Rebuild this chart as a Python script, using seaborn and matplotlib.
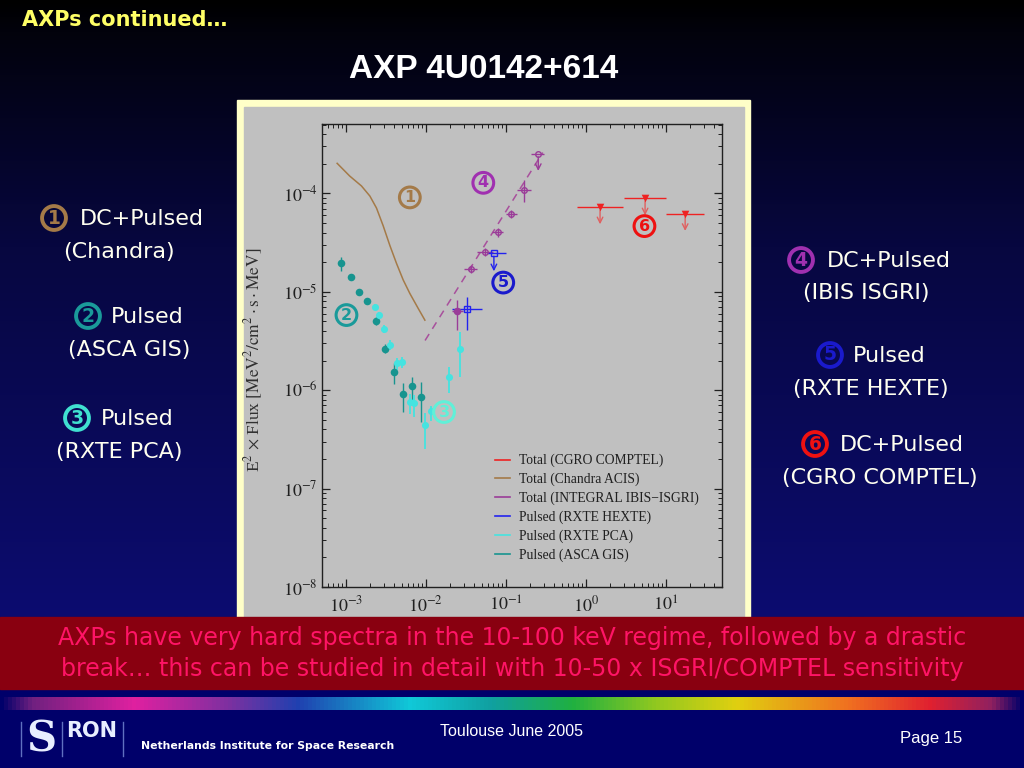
import numpy as np
import matplotlib
matplotlib.use('Agg')
import matplotlib.pyplot as plt
import seaborn as sns
from matplotlib.colors import LinearSegmentedColormap
from matplotlib.lines import Line2D
from matplotlib.patches import Rectangle

# ---------------- data ----------------
chandra_e = [7.8e-4, 1.12e-3, 1.57e-3, 2.0e-3, 2.42e-3, 2.93e-3, 3.56e-3,
             4.31e-3, 5.22e-3, 6.33e-3, 8.04e-3, 9.75e-3]
chandra_f = [2.02e-4, 1.50e-4, 1.19e-4, 9.4e-5, 7.1e-5, 4.7e-5, 2.95e-5,
             1.94e-5, 1.32e-5, 9.6e-6, 6.78e-6, 5.15e-6]

asca_e = [8.83e-4, 1.156e-3, 1.455e-3, 1.866e-3, 2.42e-3, 3.13e-3, 4.03e-3,
          5.22e-3, 6.70e-3, 8.61e-3]
asca_f = [1.94e-5, 1.40e-5, 9.93e-6, 8.09e-6, 5.07e-6, 2.65e-6, 1.53e-6,
          9.1e-7, 1.11e-6, 8.55e-7]
asca_lo = [1.63e-5, 1.31e-5, 9.27e-6, 7.55e-6, 4.62e-6, 2.37e-6, 1.16e-6,
           6.0e-7, 7.9e-7, 4.8e-7]
asca_hi = [2.27e-5, 1.50e-5, 1.06e-5, 8.67e-6, 5.56e-6, 2.98e-6, 1.87e-6,
           1.17e-6, 1.37e-6, 1.21e-6]

pca_e = [2.31e-3, 2.61e-3, 2.99e-3, 3.62e-3, 4.39e-3, 4.98e-3, 6.32e-3,
         7.10e-3, 9.75e-3, 1.148e-2, 1.963e-2, 2.67e-2]
pca_f = [7.03e-6, 5.79e-6, 4.21e-6, 2.87e-6, 1.87e-6, 1.94e-6, 7.6e-7,
         7.43e-7, 4.41e-7, 6.17e-7, 1.37e-6, 2.65e-6]
pca_lo = [6.56e-6, 5.4e-6, 3.84e-6, 2.56e-6, 1.59e-6, 1.7e-6, 5.76e-7,
          5.4e-7, 2.54e-7, 4.9e-7, 9.3e-7, 1.36e-6]
pca_hi = [7.53e-6, 6.2e-6, 4.62e-6, 3.22e-6, 2.1e-6, 2.15e-6, 9.25e-7,
          8.9e-7, 5.8e-7, 6.9e-7, 1.73e-6, 3.9e-6]

isgri_e = [2.43e-2, 3.66e-2, 5.50e-2, 7.91e-2, 0.116, 0.169]
isgri_f = [6.41e-6, 1.70e-5, 2.55e-5, 4.01e-5, 6.17e-5, 1.08e-4]
isgri_elo = [0.0210, 0.030, 0.044, 0.0665, 0.0995, 0.137]
isgri_ehi = [0.0288, 0.044, 0.0698, 0.093, 0.137, 0.205]
isgri_lo = [4.13e-6, 1.55e-5, 2.3e-5, 3.6e-5, 5.6e-5, 8.2e-5]
isgri_hi = [8.3e-6, 1.87e-5, 2.8e-5, 4.45e-5, 6.8e-5, 1.36e-4]
isgri_ul_e = [0.255]
isgri_ul_f = [2.51e-4]
isgri_ul_elo = [0.205]
isgri_ul_ehi = [0.30]
isgri_model_e = [0.0098, 0.29]
isgri_model_f = [3.2e-6, 2.6e-4]

hexte_e = [3.30e-2]
hexte_f = [6.67e-6]
hexte_elo = [2.10e-2]
hexte_ehi = [4.99e-2]
hexte_lo = [4.07e-6]
hexte_hi = [8.9e-6]
hexte_ul_e = [7.11e-2]
hexte_ul_f = [2.45e-5]
hexte_ul_elo = [5.75e-2]
hexte_ul_ehi = [9.95e-2]

comptel_e = [1.51, 5.52, 17.5]
comptel_f = [7.21e-5, 8.89e-5, 6.17e-5]
comptel_elo = [0.77, 3.01, 10.1]
comptel_ehi = [2.96, 10.1, 30.3]

legend_labels = ['Total (CGRO COMPTEL)', 'Total (Chandra ACIS)',
                 'Total (INTEGRAL IBIS\u2212ISGRI)', 'Pulsed (RXTE HEXTE)',
                 'Pulsed (RXTE PCA)', 'Pulsed (ASCA GIS)']
xtick_vals = [1e-3, 1e-2, 1e-1, 1e0, 1e1]
ytick_vals = [1e-8, 1e-7, 1e-6, 1e-5, 1e-4]

# ---------------- styles ----------------
C_CHANDRA = '#a47a48'
C_ASCA = '#17948f'
C_PCA = '#45e3e0'
C_ISGRI = '#9a3c98'
C_MODEL = '#a8509c'
C_HEXTE = '#2323ee'
C_COMPTEL = '#ee2222'
C_COMPTEL_AR = '#e06060'
UL_DROP = 10 ** -0.2

W, H = 1024, 768
fig = plt.figure(figsize=(W / 100, H / 100), dpi=100)

# ---------------- slide background (pixel coords) ----------------
bg = fig.add_axes([0, 0, 1, 1], zorder=0)
bg.set_xlim(0, W)
bg.set_ylim(H, 0)
bg.axis('off')
grad_cmap = LinearSegmentedColormap.from_list(
    'bg', [(0.0, '#000000'), (0.05, '#02020c'), (0.4, '#070740'), (1.0, '#0c0c70')])
grad = np.linspace(0, 1, 256).reshape(-1, 1)
bg.imshow(grad, cmap=grad_cmap, extent=[0, W, 617, 0], aspect='auto', zorder=0)
bg.add_patch(Rectangle((0, 617), W, H - 617, color='#00006a', zorder=0))

# cream frame + gray panel
bg.add_patch(Rectangle((237, 100), 513, 520, color='#ffffc8', zorder=1))
bg.add_patch(Rectangle((244, 107), 500, 510, color='#c0c0c0', zorder=2))

# red banner
bg.add_patch(Rectangle((0, 617), W, 72, color='#890010', zorder=3))
bfont = dict(family='DejaVu Sans', fontsize=17, color='#ff1466', ha='center',
             va='center', zorder=4)
bg.text(512, 638, 'AXPs have very hard spectra in the 10-100 keV regime, followed by a drastic', **bfont)
bg.text(512, 669, 'break\u2026 this can be studied in detail with 10-50 x ISGRI/COMPTEL sensitivity', **bfont)

# rainbow strip
rb_cmap = LinearSegmentedColormap.from_list('rb', [
    (0.0, '#00006a'), (0.03, '#702080'), (0.13, '#e020a0'), (0.22, '#8030a0'),
    (0.29, '#2040b0'), (0.40, '#10c8d8'), (0.48, '#10a0a0'), (0.56, '#20b040'),
    (0.64, '#90c820'), (0.72, '#e0d010'), (0.83, '#f07020'), (0.91, '#e02030'),
    (0.97, '#902060'), (1.0, '#00006a')])
bg.imshow(np.linspace(0, 1, 512).reshape(1, -1), cmap=rb_cmap,
          extent=[0, W, 710, 697], aspect='auto', zorder=3)

# titles
bg.text(22, 20, 'AXPs continued\u2026', family='DejaVu Sans', fontweight='bold',
        fontsize=15, color='#ffff66', ha='left', va='center', zorder=5)
bg.text(484, 70, 'AXP 4U0142+614', family='Liberation Sans', fontweight='bold',
        fontsize=24, color='white', ha='center', va='center', zorder=5)


def slide_circ(x, y, d, color):
    bg.text(x, y, d, family='DejaVu Sans', fontweight='bold', fontsize=13.5,
            color=color, ha='center', va='center', zorder=6,
            bbox=dict(boxstyle='circle,pad=0.13', fc='none', ec=color, lw=2.8))


sfont = dict(family='DejaVu Sans', fontsize=16, color='#fffff0', va='center', zorder=6)
slide_circ(54, 218, '1', C_CHANDRA)
bg.text(80, 219, 'DC+Pulsed', ha='left', **sfont)
bg.text(119, 252, '(Chandra)', ha='center', **sfont)
slide_circ(88, 316, '2', '#1a9a9a')
bg.text(111, 317, 'Pulsed', ha='left', **sfont)
bg.text(129, 350, '(ASCA GIS)', ha='center', **sfont)
slide_circ(77, 418, '3', '#40e0d0')
bg.text(101, 419, 'Pulsed', ha='left', **sfont)
bg.text(119, 452, '(RXTE PCA)', ha='center', **sfont)

slide_circ(801, 260, '4', '#a030b0')
bg.text(827, 261, 'DC+Pulsed', ha='left', **sfont)
bg.text(866, 293, '(IBIS ISGRI)', ha='center', **sfont)
slide_circ(830, 355, '5', '#1a1acc')
bg.text(853, 356, 'Pulsed', ha='left', **sfont)
bg.text(871, 389, '(RXTE HEXTE)', ha='center', **sfont)
slide_circ(815, 444, '6', '#ee1111')
bg.text(840, 445, 'DC+Pulsed', ha='left', **sfont)
bg.text(880, 478, '(CGRO COMPTEL)', ha='center', **sfont)

# footer
bg.text(512, 731, 'Toulouse June 2005', family='Liberation Sans', fontsize=11.5,
        color='white', ha='center', va='center', zorder=5)
bg.text(931, 738, 'Page 15', family='Liberation Sans', fontsize=12,
        color='white', ha='center', va='center', zorder=5)
bg.text(141, 746, 'Netherlands Institute for Space Research', family='DejaVu Sans',
        fontweight='bold', fontsize=7.8, color='white', ha='left', va='center', zorder=5)
for lx in (21, 62, 123):
    bg.plot([lx, lx], [722, 756], color='#6070c0', lw=1, zorder=5)
bg.text(41, 740, 'S', family='DejaVu Serif', fontweight='bold', fontsize=30,
        color='#e8eeff', ha='center', va='center', zorder=5)
bg.text(92, 731, 'RON', family='DejaVu Sans', fontweight='bold', fontsize=15,
        color='#e8eeff', ha='center', va='center', zorder=5)

# ---------------- main chart ----------------
plt.rcParams['mathtext.fontset'] = 'stix'
ax = fig.add_axes([321.7 / W, 1 - 587 / H, 400 / W, 463 / H], zorder=2)
ax.set_facecolor('#c0c0c0')
ax.set_xscale('log')
ax.set_yscale('log')
ax.set_xlim(5.0e-4, 50.1)
ax.set_ylim(1e-8, 5.07e-4)

# Chandra
sns.lineplot(x=chandra_e, y=chandra_f, ax=ax, color=C_CHANDRA, lw=1.1,
             sort=False, estimator=None, zorder=3)

# ASCA GIS
a_e, a_f = np.array(asca_e), np.array(asca_f)
ax.errorbar(a_e, a_f, yerr=[a_f - np.array(asca_lo), np.array(asca_hi) - a_f],
            xerr=[a_e * 0.06, a_e * 0.06], fmt='none', ecolor=C_ASCA, elinewidth=1, zorder=3)
sns.scatterplot(x=asca_e, y=asca_f, ax=ax, color=C_ASCA, s=30, edgecolor=C_ASCA,
                linewidth=0, zorder=4)

# RXTE PCA
p_e, p_f = np.array(pca_e), np.array(pca_f)
ax.errorbar(p_e, p_f, yerr=[p_f - np.array(pca_lo), np.array(pca_hi) - p_f],
            fmt='none', ecolor=C_PCA, elinewidth=1.3, zorder=3)
sns.scatterplot(x=pca_e, y=pca_f, ax=ax, color=C_PCA, s=26, edgecolor=C_PCA,
                linewidth=0, zorder=4)

# INTEGRAL ISGRI
sns.lineplot(x=isgri_model_e, y=isgri_model_f, ax=ax, color=C_MODEL, lw=1.1,
             linestyle=(0, (5, 4)), sort=False, estimator=None, zorder=2)
i_e, i_f = np.array(isgri_e), np.array(isgri_f)
ax.errorbar(i_e, i_f, xerr=[i_e - np.array(isgri_elo), np.array(isgri_ehi) - i_e],
            yerr=[i_f - np.array(isgri_lo), np.array(isgri_hi) - i_f],
            fmt='none', ecolor=C_ISGRI, elinewidth=1, zorder=3)
ax.plot(isgri_e[1:], isgri_f[1:], 'o', ms=4, mfc='none', mec=C_ISGRI, mew=1, zorder=4)
sns.scatterplot(x=isgri_e[:1], y=isgri_f[:1], ax=ax, color=C_ISGRI, s=30,
                linewidth=0, zorder=4)
ax.errorbar(isgri_ul_e, isgri_ul_f,
            xerr=[[isgri_ul_e[0] - isgri_ul_elo[0]], [isgri_ul_ehi[0] - isgri_ul_e[0]]],
            fmt='none', ecolor=C_ISGRI, elinewidth=1, zorder=3)
ax.plot(isgri_ul_e, isgri_ul_f, 'o', ms=4, mfc='none', mec=C_ISGRI, mew=1, zorder=4)
for e, f in zip(isgri_ul_e, isgri_ul_f):
    ax.annotate('', xy=(e, f * UL_DROP), xytext=(e, f),
                arrowprops=dict(arrowstyle='->', color=C_ISGRI, lw=1), zorder=3)

# RXTE HEXTE
h_e, h_f = np.array(hexte_e), np.array(hexte_f)
ax.errorbar(h_e, h_f, xerr=[h_e - np.array(hexte_elo), np.array(hexte_ehi) - h_e],
            yerr=[h_f - np.array(hexte_lo), np.array(hexte_hi) - h_f],
            fmt='none', ecolor=C_HEXTE, elinewidth=1, zorder=3)
hu_e = np.array(hexte_ul_e)
ax.errorbar(hu_e, hexte_ul_f, xerr=[hu_e - np.array(hexte_ul_elo), np.array(hexte_ul_ehi) - hu_e],
            fmt='none', ecolor=C_HEXTE, elinewidth=1, zorder=3)
ax.plot(hexte_e + hexte_ul_e, hexte_f + hexte_ul_f, 's', ms=4, mfc='none',
        mec=C_HEXTE, mew=1, zorder=4)
for e, f in zip(hexte_ul_e, hexte_ul_f):
    ax.annotate('', xy=(e, f * UL_DROP * 0.98), xytext=(e, f),
                arrowprops=dict(arrowstyle='->', color=C_HEXTE, lw=1), zorder=3)

# COMPTEL
c_e = np.array(comptel_e)
ax.errorbar(c_e, comptel_f, xerr=[c_e - np.array(comptel_elo), np.array(comptel_ehi) - c_e],
            fmt='none', ecolor=C_COMPTEL, elinewidth=1, zorder=3)
sns.scatterplot(x=comptel_e, y=comptel_f, ax=ax, color=C_COMPTEL, marker='v', s=30,
                linewidth=0, zorder=4)
for e, f in zip(comptel_e, comptel_f):
    ax.annotate('', xy=(e, f * UL_DROP), xytext=(e, f),
                arrowprops=dict(arrowstyle='->', color=C_COMPTEL_AR, lw=1), zorder=3)


def plot_circ(x, y, d, color):
    ax.text(x, y, d, family='DejaVu Sans', fontweight='bold', fontsize=11.5,
            color=color, ha='center', va='center', zorder=6,
            bbox=dict(boxstyle='circle,pad=0.18', fc='none', ec=color, lw=2.2))


plot_circ(6.32e-3, 9.1e-5, '1', C_CHANDRA)
plot_circ(5.24e-2, 1.28e-4, '4', '#a030b0')
plot_circ(9.3e-2, 1.24e-5, '5', '#1a1acc')
plot_circ(1.02e-3, 5.8e-6, '2', '#1a9a9a')
plot_circ(1.69e-2, 6.0e-7, '3', '#60f0d8')
plot_circ(5.42, 4.65e-5, '6', '#ee1111')

# axes styling
for sp in ax.spines.values():
    sp.set_color('#202020')
    sp.set_linewidth(1)
ax.set_xticks(xtick_vals)
ax.set_yticks(ytick_vals)
ax.set_xticklabels([r'$10^{%d}$' % int(np.log10(v)) for v in xtick_vals])
ax.set_yticklabels([r'$10^{%d}$' % int(np.log10(v)) for v in ytick_vals])
ax.tick_params(which='both', direction='in', top=True, right=True, colors='#202020')
ax.tick_params(which='major', length=6, width=0.9, labelsize=13)
ax.tick_params(which='minor', length=3, width=0.7)
ax.tick_params(axis='x', which='major', pad=6)
ax.tick_params(axis='y', which='major', pad=3)
ax.set_ylabel(r'E$^2$ $\times$ Flux $\left[\mathrm{MeV^2/cm^2 \cdot s \cdot MeV}\right]$',
              fontsize=12.5, color='#303030', family='Liberation Serif')
ax.yaxis.set_label_coords(-0.142, 0.49)

handles = [Line2D([], [], color=c, lw=1.2) for c in
           [C_COMPTEL, C_CHANDRA, C_ISGRI, C_HEXTE, C_PCA, C_ASCA]]
leg = ax.legend(handles, legend_labels, loc='upper left',
                bbox_to_anchor=(495 / W, 1 - 454 / H), bbox_transform=fig.transFigure,
                frameon=False, borderpad=0, borderaxespad=0, handlelength=1.1,
                handletextpad=0.65, labelspacing=0.4,
                prop={'family': 'Liberation Serif', 'size': 9.8})
for t in leg.get_texts():
    t.set_color('#202020')

fig.savefig('out.png', dpi=100)
